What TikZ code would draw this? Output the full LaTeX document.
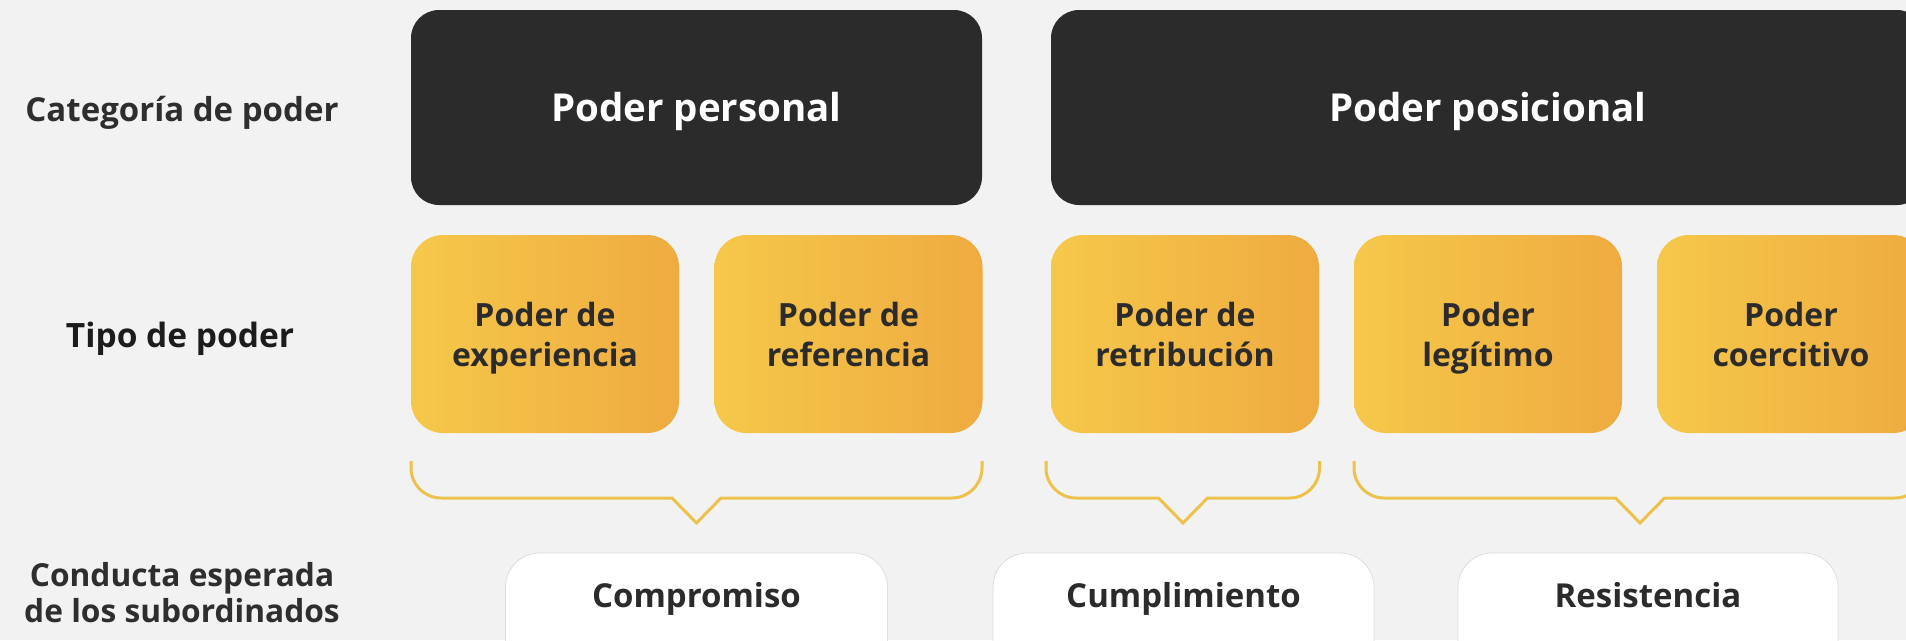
\documentclass[tikz,border=0pt]{standalone}
\usepackage{fontspec}
\setmainfont{Open Sans}
\definecolor{bgc}{HTML}{F2F2F2}
\definecolor{darkc}{HTML}{2B2B2B}
\definecolor{textc}{HTML}{2E2E2E}
\definecolor{textd}{HTML}{1C1C1C}
\definecolor{yelL}{HTML}{F5C84A}
\definecolor{yelR}{HTML}{EFAB40}
\definecolor{bracec}{HTML}{EDC24C}
\definecolor{wborder}{HTML}{DDDDDD}
\newcommand\ystrut{\rule[-8pt]{0pt}{40pt}}
\newcommand\lstrut{\rule[-8pt]{0pt}{36pt}}
\tikzset{
  catbox/.style={fill=darkc, rounded corners=28pt, minimum height=195pt, inner sep=0pt,
     text=white, text height=27pt, text depth=0pt, font=\bfseries\fontsize{38.5}{46}\selectfont},
  typebox/.style={left color=yelL, right color=yelR, rounded corners=32pt, minimum width=268pt,
     minimum height=198pt, inner sep=0pt, align=center, text=darkc,
     font=\bfseries\fontsize{32}{40}\selectfont},
  whitebox/.style={fill=white, draw=wborder, line width=0.8pt, rounded corners=34pt,
     minimum height=130pt, inner sep=0pt, text=darkc, text height=10pt, text depth=32pt,
     font=\bfseries\fontsize{33}{40}\selectfont},
  sidelabel/.style={text=textc, align=center, inner sep=0pt, font=\bfseries\fontsize{32.5}{36}\selectfont},
  bracepath/.style={draw=bracec, line width=3pt, line join=miter},
}
\begin{document}
\begin{tikzpicture}[x=1pt,y=1pt]
\useasboundingbox (0,0) rectangle (1906,-640);
\clip (0,0) rectangle (1906,-640);
\fill[bgc] (0,0) rectangle (1906,-640);

% side labels
\node[sidelabel, anchor=base, font=\bfseries\fontsize{33}{36}\selectfont] (l1) at (182,-121) {Categoría de poder};
\node[sidelabel, anchor=base, text=textd, font=\bfseries\fontsize{33.5}{36}\selectfont] (l2) at (180,-347) {Tipo de poder};
\node[sidelabel, font=\bfseries\fontsize{31.7}{36}\selectfont] (l3) at (182,-594) {\lstrut Conducta esperada\\\lstrut de los subordinados};

% categories
\node[catbox, minimum width=571pt] (pp) at (696.5,-107.5) {Poder personal};
\node[catbox, minimum width=874pt] (pq) at (1488,-107.5) {Poder posicional};

% types
\node[typebox] (t1) at (545,-334) {\ystrut Poder de\\\ystrut experiencia};
\node[typebox] (t2) at (848.5,-334) {\ystrut Poder de\\\ystrut referencia};
\node[typebox] (t3) at (1185,-334) {\ystrut Poder de\\\ystrut retribución};
\node[typebox] (t4) at (1488,-334) {\ystrut Poder\\\ystrut legítimo};
\node[typebox] (t5) at (1791,-334) {\ystrut Poder\\\ystrut coercitivo};

% braces
\draw[bracepath] (411,-461) -- (411,-468) arc[start angle=180,end angle=270,radius=30]
  -- (672,-498) -- (696.5,-523) -- (721,-498) -- (952,-498)
  arc[start angle=270,end angle=360,radius=30] -- (982,-461);
\draw[bracepath] (1046,-461) -- (1046,-468) arc[start angle=180,end angle=270,radius=30]
  -- (1158.5,-498) -- (1183,-523) -- (1207.5,-498) -- (1289.5,-498)
  arc[start angle=270,end angle=360,radius=30] -- (1319.5,-461);
\draw[bracepath] (1354,-461) -- (1354,-468) arc[start angle=180,end angle=270,radius=30]
  -- (1615.5,-498) -- (1640,-523) -- (1664.5,-498) -- (1895,-498)
  arc[start angle=270,end angle=360,radius=30] -- (1925,-461);

% conducts
\node[whitebox, minimum width=382pt] (c1) at (696.5,-618) {Compromiso};
\node[whitebox, minimum width=381pt] (c2) at (1183.5,-618) {Cumplimiento};
\node[whitebox, minimum width=380pt] (c3) at (1648,-618) {Resistencia};
\end{tikzpicture}
\end{document}
